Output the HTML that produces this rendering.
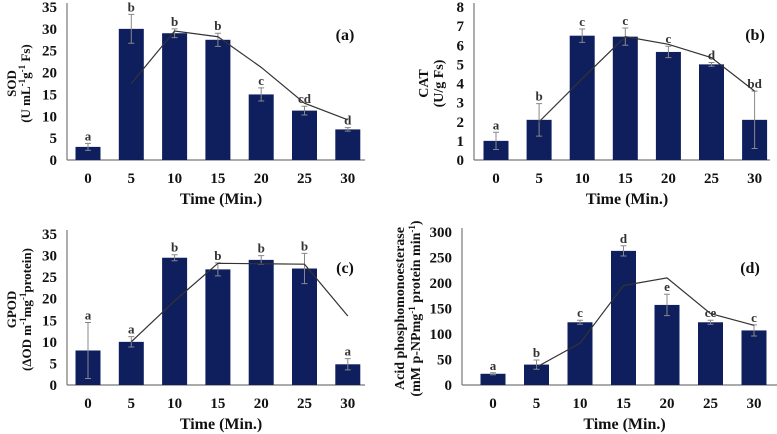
<!DOCTYPE html>
<html><head><meta charset="utf-8"><style>
html,body{margin:0;padding:0;background:#fff;}
svg{display:block;font-family:"Liberation Serif",serif;font-weight:bold;}
</style></head><body>
<svg id="fig" width="777" height="434" viewBox="0 0 777 434" xmlns="http://www.w3.org/2000/svg"></svg>
<script>
const categories = [0,5,10,15,20,25,30];
const sodValues = [3,30,29,27.5,15,11.3,7];
const sodErrors = [0.8,3.3,1,1.5,1.5,1,0.4];
const sodLetters = ['a','b','b','b','c','cd','d'];
const sodTrend = [null,17.5,29.5,28.2,21.2,13,9.2];
const sodTicks = [0,5,10,15,20,25,30,35];
const catValues = [1,2.1,6.5,6.45,5.65,5,2.1];
const catErrors = [0.45,0.85,0.35,0.45,0.3,0.1,1.5];
const catLetters = ['a','b','c','c','c','d','bd'];
const catTrend = [null,2.0,4.25,6.45,6.05,5.35,3.6];
const catTicks = [0,1,2,3,4,5,6,7,8];
const gpodValues = [8,10,29.5,26.8,29,27,4.8];
const gpodErrors = [6.5,1.2,0.7,1.5,1,3.5,1.3];
const gpodLetters = ['a','a','b','b','b','b','a'];
const gpodTrend = [null,10,19.5,28.2,28.1,28,16];
const gpodTicks = [0,5,10,15,20,25,30,35];
const apValues = [22,40,123,263,157,123,107];
const apErrors = [2,9,4,10,21,4,11];
const apLetters = ['a','b','c','d','e','ce','c'];
const apTrend = [null,35,82,195,210,140,117];
const apTicks = [0,50,100,150,200,250,300];

const NS='http://www.w3.org/2000/svg';
const svg=document.getElementById('fig');
function mk(tag,attrs,parent){const e=document.createElementNS(NS,tag);for(const k in attrs)e.setAttribute(k,attrs[k]);(parent||svg).appendChild(e);return e;}

function panel(p){
  const g=mk('g',{});
  
  
  const max=p.ticks[p.ticks.length-1];
  const yS=v=>p.y0-(v/max)*(p.y0-p.yTop);
  const xS=i=>p.xFirst+i*p.step;
  const ax=mk('line',{x1:p.ax,y1:p.yTop-4,x2:p.ax,y2:p.y0,stroke:'#777','stroke-width':1.2},g);
  
  
  const bx=mk('line',{x1:p.ax,y1:p.y0,x2:p.axEnd,y2:p.y0,stroke:'#777','stroke-width':1.2},g);
  
  
  p.ticks.forEach(t=>{
    const tx=mk('text',{x:p.ax-10,y:yS(t)+5,'text-anchor':'end','font-size':15,fill:'#111'},g);
    tx.textContent=t;
    
    
  });
  categories.forEach((c,i)=>{
    const tx=mk('text',{x:xS(i),y:p.y0+23,'text-anchor':'middle','font-size':15,fill:'#111'},g);
    tx.textContent=c;
    
    
    const v=p.values[i],e=p.errors[i];
    const r=mk('rect',{x:xS(i)-12.5,y:yS(v),width:25,height:p.y0-yS(v),fill:'#0f1f5e'},g);
    
    
    const el=mk('path',{d:`M${xS(i)},${yS(v+e)}V${yS(v-e)}M${xS(i)-3},${yS(v+e)}h6M${xS(i)-3},${yS(v-e)}h6`,stroke:'#888','stroke-width':1,fill:'none'},g);
    
    
    const lt=mk('text',{x:xS(i),y:yS(v+e)-3,'text-anchor':'middle','font-size':13,fill:'#333'},g);
    lt.textContent=p.letters[i];
    
    
  });
  let d='';
  p.trend.forEach((v,i)=>{if(v==null)return;d+=(d?'L':'M')+xS(i)+','+yS(v);});
  const tl=mk('path',{d:d,stroke:'#333','stroke-width':1.2,fill:'none'},g);
  
  
  const xt=mk('text',{x:(p.ax+p.axEnd)/2+5,y:p.y0+44,'text-anchor':'middle','font-size':16,fill:'#111'},g);
  xt.textContent='Time (Min.)';
  
  
  const pl=mk('text',{x:p.lx,y:p.ly,'text-anchor':'middle','font-size':16,fill:'#111'},g);
  pl.textContent=p.label;
  
  
  const cy=(p.yTop+p.y0)/2;
  p.ytitle.forEach((t,k)=>{
    const yt=mk('text',{x:p.tx[k],y:cy,'text-anchor':'middle','font-size':p.tfs,fill:'#111',transform:`rotate(-90 ${p.tx[k]} ${cy})`},g);
    yt.innerHTML=t;
    
    
  });
}
const sup=s=>`<tspan baseline-shift="super" font-size="9">${s}</tspan>`;
panel({name:'panel-a-sod',values:sodValues,errors:sodErrors,letters:sodLetters,trend:sodTrend,ticks:sodTicks,
  ax:67,axEnd:365,y0:160,yTop:7,xFirst:88,step:43.3,label:'(a)',lx:345,ly:40,
  ytitle:['SOD','(U mL'+sup('-1')+'g'+sup('-1')+' Fs)'],tx:[16,30],tfs:13});
panel({name:'panel-b-cat',values:catValues,errors:catErrors,letters:catLetters,trend:catTrend,ticks:catTicks,
  ax:474,axEnd:770,y0:160,yTop:7,xFirst:496,step:43.1,label:'(b)',lx:755,ly:40,
  ytitle:['CAT','(U/g Fs)'],tx:[428,443],tfs:14});
panel({name:'panel-c-gpod',values:gpodValues,errors:gpodErrors,letters:gpodLetters,trend:gpodTrend,ticks:gpodTicks,
  ax:67,axEnd:365,y0:385,yTop:234,xFirst:88,step:43.3,label:'(c)',lx:345,ly:273,
  ytitle:['GPOD','(ΔOD m'+sup('-1')+'mg'+sup('-1')+'protein)'],tx:[16,31],tfs:13});
panel({name:'panel-d-acid-phosphomonoesterase',values:apValues,errors:apErrors,letters:apLetters,trend:apTrend,ticks:apTicks,
  ax:462,axEnd:777,y0:385,yTop:232,xFirst:493,step:43.5,label:'(d)',lx:750,ly:273,
  ytitle:['Acid phosphomonoesterase','(mM p-NPmg'+sup('-1')+' protein min'+sup('-1')+')'],tx:[404,420],tfs:14});
</script>
</body></html>
